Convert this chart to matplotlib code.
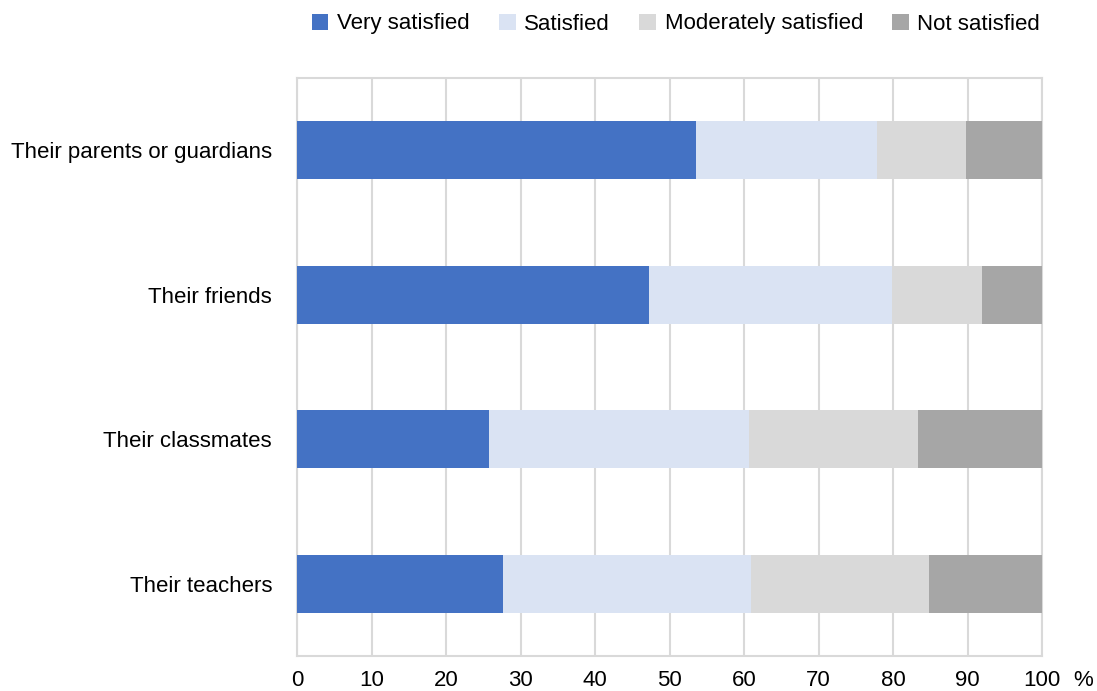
import matplotlib
matplotlib.use("Agg")
import matplotlib.pyplot as plt
from matplotlib.patches import Patch

# Satisfaction with relationships, share of respondents (%)
groups = ["Their parents or guardians", "Their friends", "Their classmates", "Their teachers"]
very_satisfied = [53.6, 47.3, 25.8, 27.6]
satisfied = [24.3, 32.5, 34.9, 33.4]
moderately_satisfied = [11.9, 12.2, 22.7, 23.8]
not_satisfied = [10.2, 8.0, 16.6, 15.2]

series = [
    ("Very satisfied", very_satisfied, "#4472c4"),
    ("Satisfied", satisfied, "#dae3f3"),
    ("Moderately satisfied", moderately_satisfied, "#d9d9d9"),
    ("Not satisfied", not_satisfied, "#a6a6a6"),
]

plt.rcParams["font.family"] = ["Liberation Sans Narrow", "Liberation Sans", "DejaVu Sans"]
plt.rcParams["font.size"] = 16

fig = plt.figure(figsize=(10.97, 6.91), dpi=100)
ax = fig.add_axes([297 / 1097, 1 - 656 / 691, (1042 - 297) / 1097, (656 - 78) / 691])

y = list(range(len(groups)))
left = [0.0] * len(groups)
handles = []
for name, vals, color in series:
    ax.barh(y, vals, left=left, height=0.4, color=color, zorder=3)
    left = [a + b for a, b in zip(left, vals)]
    handles.append(Patch(facecolor=color, label=name))

ax.set_xlim(0, 100)
ax.set_ylim(3.5, -0.5)
ax.set_xticks(range(0, 101, 10))
ax.set_yticks(y)
ax.set_yticklabels(groups)
ax.tick_params(length=0, colors="#000000", labelsize=16)
ax.tick_params(axis="x", pad=10)
ax.tick_params(axis="y", pad=18)
ax.grid(axis="x", color="#d9d9d9", linewidth=1.5, zorder=0)
for s in ax.spines.values():
    s.set_color("#d9d9d9")
    s.set_linewidth(1.5)

fig.text(1083 / 1097, 1 - 680 / 691, "%", ha="center", va="center", fontsize=16)

fig.legend(handles=handles, loc="center", bbox_to_anchor=(676 / 1097, 1 - 24 / 691),
           ncol=4, frameon=False, fontsize=16, handlelength=0.75, handleheight=0.75,
           handletextpad=0.4, columnspacing=1.3)

fig.savefig("out.png", dpi=100)
